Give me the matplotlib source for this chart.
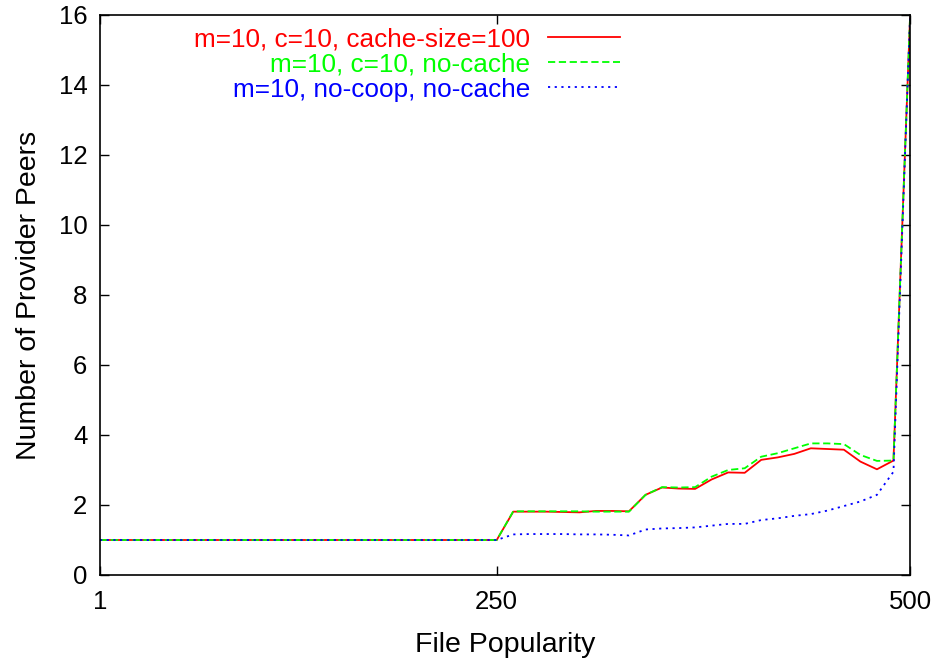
import matplotlib
matplotlib.use("Agg")
import matplotlib.pyplot as plt
import numpy as np

plt.rcParams['font.family'] = ['Liberation Sans', 'DejaVu Sans']

# Bins of files ordered by popularity (50 bins of 10 files)
bins = np.arange(50)
tick_positions = [0, 24, 49]
tick_labels = ["1", "250", "500"]

cache100 = [1.0] * 25 + [1.81, 1.81, 1.81, 1.80, 1.79, 1.83, 1.83, 1.82,
                         2.29, 2.50, 2.47, 2.46, 2.73, 2.93, 2.92, 3.29,
                         3.36, 3.46, 3.62, 3.60, 3.58, 3.24, 3.02, 3.27, 15.9]
nocache = [1.0] * 25 + [1.82, 1.82, 1.82, 1.82, 1.82, 1.81, 1.81, 1.81,
                        2.29, 2.51, 2.50, 2.51, 2.81, 3.00, 3.05, 3.38,
                        3.48, 3.62, 3.76, 3.76, 3.74, 3.43, 3.26, 3.27, 15.9]
nocoop = [1.0] * 25 + [1.16, 1.17, 1.17, 1.17, 1.16, 1.16, 1.15, 1.13,
                       1.30, 1.33, 1.34, 1.36, 1.41, 1.46, 1.46, 1.57,
                       1.62, 1.69, 1.74, 1.84, 1.97, 2.10, 2.29, 2.95, 15.9]

labels = ["m=10, c=10, cache-size=100",
          "m=10, c=10, no-cache",
          "m=10, no-coop, no-cache"]
colors = ["#ff0000", "#00ff00", "#0000ff"]

fig = plt.figure(figsize=(9.36, 6.6), dpi=100)
ax = fig.add_axes([100/936, 1-575/660, 810/936, 560/660])

ax.plot(bins, cache100, color=colors[0], lw=1.3, linestyle='-', label=labels[0])
ax.plot(bins, nocache, color=colors[1], lw=1.3, linestyle=(0, (4, 2)), label=labels[1])
ax.plot(bins, nocoop, color=colors[2], lw=1.3, linestyle=(0, (1.2, 2.5)), label=labels[2])

ax.set_xlim(0, 49)
ax.set_ylim(0, 16)
ax.set_xticks(tick_positions)
ax.set_xticklabels(tick_labels)
ax.set_yticks(np.arange(0, 17, 2))
ax.tick_params(direction='in', length=6.5, width=1, top=True, right=True,
               labelsize=18.5, pad=9)
ax.tick_params(axis='x', pad=11)
for s in ax.spines.values():
    s.set_linewidth(1.2)

ax.set_xlabel("File Popularity", fontsize=20.5, labelpad=13)
ax.set_ylabel("Number of Provider Peers", fontsize=20.5, labelpad=12)

leg = ax.legend(loc='upper right', bbox_to_anchor=(620/936, 1-27/660),
                bbox_transform=fig.transFigure, frameon=False, markerfirst=False,
                fontsize=18.8, handlelength=2.75, handletextpad=0.7,
                labelspacing=0.05, borderpad=0, borderaxespad=0)
for t, c in zip(leg.get_texts(), colors):
    t.set_color(c)

fig.savefig("out.png", dpi=100)
